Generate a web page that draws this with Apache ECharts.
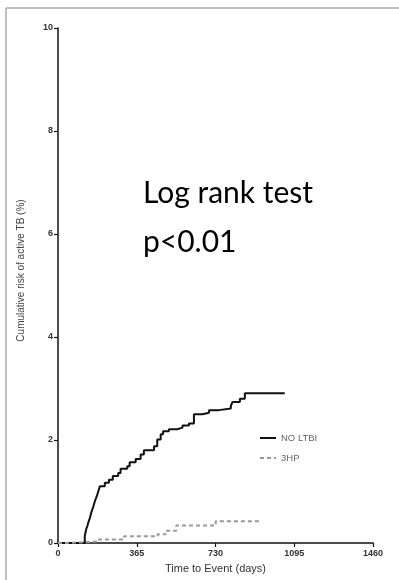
<!DOCTYPE html>
<html>
<head>
<meta charset="utf-8">
<script src="https://cdn.jsdelivr.net/npm/echarts@6/dist/echarts.min.js"></script>
<style>
  html, body { margin: 0; padding: 0; background: #fff; }
  #chart { width: 399px; height: 580px; }
</style>
</head>
<body>
<div id="chart"></div>
<script>
// Cumulative risk (%) by follow-up day, stepped at each event
const noLtbiDays = [0, 124, 130, 136, 140, 148, 155, 163, 171, 177, 182, 188, 194, 217, 236, 254, 279, 290, 321, 332, 360, 383, 398, 445, 460, 476, 487, 514, 553, 577, 607, 630, 669, 700, 746, 801, 809, 843, 866, 1051];
const noLtbiRisk = [0, 0.13, 0.26, 0.33, 0.39, 0.49, 0.60, 0.70, 0.81, 0.88, 0.94, 1.02, 1.10, 1.17, 1.23, 1.30, 1.36, 1.44, 1.49, 1.57, 1.63, 1.72, 1.80, 1.88, 2.01, 2.11, 2.17, 2.21, 2.24, 2.28, 2.32, 2.50, 2.53, 2.58, 2.61, 2.66, 2.74, 2.80, 2.91, 2.91];

const hpDays = [0, 38, 190, 306, 462, 499, 548, 731, 943];
const hpRisk = [0, 0.03, 0.07, 0.13, 0.17, 0.24, 0.34, 0.42, 0.42];

const xTicks = [0, 365, 730, 1095, 1460];
const seriesNames = ['NO LTBI', '3HP'];

const pairs = (xs, ys) => xs.map((x, i) => [x, ys[i]]);

const chart = echarts.init(document.getElementById('chart'));
const sans = 'Liberation Sans, Arial, sans-serif';
const tickFont = { fontFamily: sans, fontSize: 9, fontWeight: 'bold', color: '#333' };

chart.setOption({
  animation: false,
  backgroundColor: '#fff',
  grid: { left: 58, right: 26, top: 28, bottom: 37, containLabel: false },
  xAxis: {
    type: 'value',
    min: 0, max: 1460, interval: 365,
    name: 'Time to Event (days)',
    nameLocation: 'middle',
    nameGap: 20,
    nameTextStyle: { fontFamily: sans, fontSize: 11, color: '#333' },
    axisLine: { lineStyle: { color: '#111', width: 1.5 } },
    axisTick: { show: true, length: 4, lineStyle: { color: '#111', width: 1.2 } },
    axisLabel: Object.assign({ margin: 6, formatter: v => xTicks.includes(v) ? String(v) : '' }, tickFont),
    splitLine: { show: false }
  },
  yAxis: {
    type: 'value',
    min: 0, max: 10, interval: 2,
    name: 'Cumulative risk of active TB (%)',
    nameLocation: 'middle',
    nameGap: 32,
    nameTextStyle: { fontFamily: sans, fontSize: 10, color: '#444', padding: [0, 0, 0, 30] },
    axisLine: { show: true, lineStyle: { color: '#111', width: 1.5 } },
    axisTick: { show: true, length: 4, lineStyle: { color: '#111', width: 1.2 } },
    axisLabel: Object.assign({ margin: 5 }, tickFont),
    splitLine: { show: false }
  },
  legend: {
    orient: 'vertical',
    left: 254,
    top: 428,
    itemWidth: 16,
    itemHeight: 8,
    itemGap: 10,
    itemStyle: { opacity: 0 },
    textStyle: { fontFamily: sans, fontSize: 9.5, color: '#666' },
    data: seriesNames
  },
  series: [
    {
      name: seriesNames[0],
      type: 'line',
      step: 'end',
      symbol: 'none',
      data: pairs(noLtbiDays, noLtbiRisk),
      lineStyle: { color: '#111', width: 2 },
      itemStyle: { color: '#111' }
    },
    {
      name: seriesNames[1],
      type: 'line',
      step: 'end',
      symbol: 'none',
      data: pairs(hpDays, hpRisk),
      lineStyle: { color: '#999', width: 2, type: [4, 3] },
      itemStyle: { color: '#999' }
    }
  ],
  graphic: [
    // page frame (top and left edges)
    { type: 'line', shape: { x1: 6, y1: 8, x2: 399, y2: 8 }, style: { stroke: '#c0c0c0', lineWidth: 2 } },
    { type: 'line', shape: { x1: 6, y1: 8, x2: 6, y2: 580 }, style: { stroke: '#c0c0c0', lineWidth: 2 } },
    // annotation
    {
      type: 'text', left: 143, top: 178,
      style: { text: 'Log rank test', fontFamily: 'Lato, Open Sans, sans-serif', fontSize: 30, fill: '#000' }
    },
    {
      type: 'text', left: 143, top: 227,
      style: { text: 'p<0.01', fontFamily: 'Lato, Open Sans, sans-serif', fontSize: 30, fill: '#000' }
    }
  ]
});
</script>
</body>
</html>
